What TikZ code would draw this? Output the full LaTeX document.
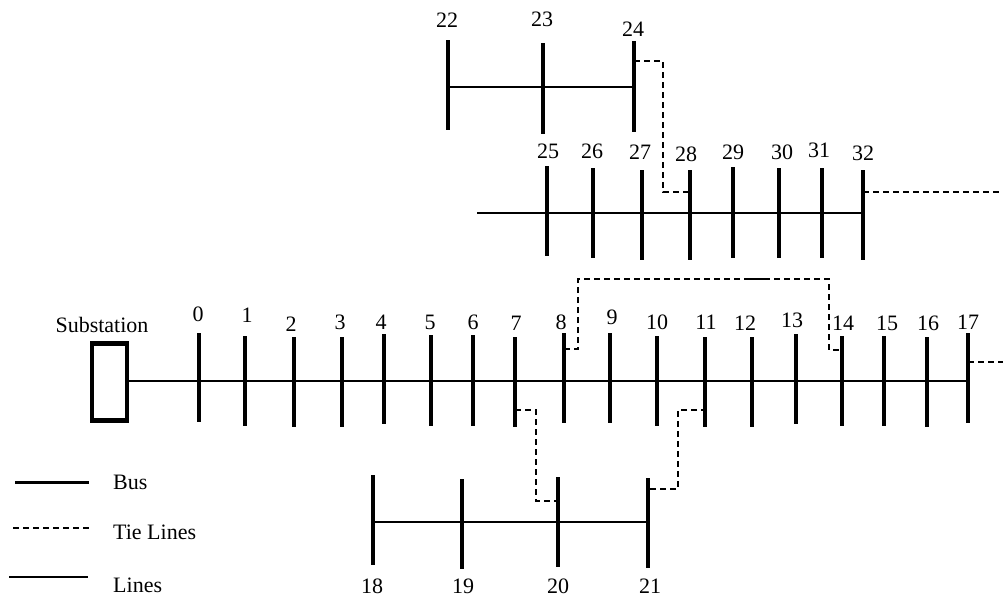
\documentclass[tikz,border=0pt]{standalone}
\usepackage{fontspec}
\setmainfont{Liberation Serif}
\tikzset{
  busbar/.style={line width=4pt},
  feeder/.style={line width=1.3pt},
  tieline/.style={line width=1.3pt,dash pattern=on 6pt off 4pt},
  substation/.style={draw,line width=4.5pt,minimum width=35pt,minimum height=77pt,inner sep=0pt},
  busnum/.style={inner sep=0pt,font=\fontsize{22}{26}\selectfont},
  legendtext/.style={busnum,anchor=west}
}
\begin{document}
\begin{tikzpicture}[x=1pt,y=-1pt]
\useasboundingbox (0,0) rectangle (1003,597);

% Substation
\node [substation] (sub) at (109.5,382) {};
\node [busnum] (subname) at (102,325) {Substation};

% Main feeder buses 0 - 17
\coordinate (b0) at (199,381); \draw [busbar] (199,333) -- (199,422); \node [busnum] (n0) at (198,314) {0};
\coordinate (b1) at (245,381); \draw [busbar] (245,336) -- (245,426); \node [busnum] (n1) at (247,315) {1};
\coordinate (b2) at (294,381); \draw [busbar] (294,337) -- (294,427); \node [busnum] (n2) at (291,324) {2};
\coordinate (b3) at (342,381); \draw [busbar] (342,337) -- (342,427); \node [busnum] (n3) at (340,322) {3};
\coordinate (b4) at (384,381); \draw [busbar] (384,334) -- (384,424); \node [busnum] (n4) at (381,322) {4};
\coordinate (b5) at (431,381); \draw [busbar] (431,335) -- (431,426); \node [busnum] (n5) at (430,322) {5};
\coordinate (b6) at (473,381); \draw [busbar] (473,335) -- (473,426); \node [busnum] (n6) at (473,322) {6};
\coordinate (b7) at (515,381); \draw [busbar] (515,337) -- (515,427); \node [busnum] (n7) at (516,323) {7};
\coordinate (b8) at (564,381); \draw [busbar] (564,333) -- (564,423); \node [busnum] (n8) at (561,322) {8};
\coordinate (b9) at (610,381); \draw [busbar] (610,333) -- (610,423); \node [busnum] (n9) at (612,317) {9};
\coordinate (b10) at (657,381); \draw [busbar] (657,336) -- (657,426); \node [busnum] (n10) at (657,322) {10};
\coordinate (b11) at (705,381); \draw [busbar] (705,337) -- (705,427); \node [busnum] (n11) at (706,322) {11};
\coordinate (b12) at (752,381); \draw [busbar] (752,337) -- (752,427); \node [busnum] (n12) at (745,323) {12};
\coordinate (b13) at (796,381); \draw [busbar] (796,334) -- (796,424); \node [busnum] (n13) at (792,320) {13};
\coordinate (b14) at (842,381); \draw [busbar] (842,336) -- (842,426); \node [busnum] (n14) at (843,323) {14};
\coordinate (b15) at (884,381); \draw [busbar] (884,336) -- (884,426); \node [busnum] (n15) at (887,323) {15};
\coordinate (b16) at (927,381); \draw [busbar] (927,337) -- (927,427); \node [busnum] (n16) at (928,323) {16};
\coordinate (b17) at (968,381); \draw [busbar] (968,333) -- (968,423); \node [busnum] (n17) at (968,322) {17};
\draw [feeder] (b0 -| sub.east) -- (b17);

% Lateral buses 18 - 21
\coordinate (b18) at (373,522); \draw [busbar] (373,475) -- (373,565); \node [busnum] (n18) at (372,586) {18};
\coordinate (b19) at (462,522); \draw [busbar] (462,479) -- (462,569); \node [busnum] (n19) at (463,586) {19};
\coordinate (b20) at (558,522); \draw [busbar] (558,477) -- (558,567); \node [busnum] (n20) at (558,586) {20};
\coordinate (b21) at (648,522); \draw [busbar] (648,478) -- (648,568); \node [busnum] (n21) at (650,586) {21};
\draw [feeder] (b18) -- (b21);

% Lateral buses 22 - 24
\coordinate (b22) at (448,87); \draw [busbar] (448,40) -- (448,130); \node [busnum] (n22) at (447,20) {22};
\coordinate (b23) at (543,87); \draw [busbar] (543,43) -- (543,134); \node [busnum] (n23) at (542,19) {23};
\coordinate (b24) at (634,87); \draw [busbar] (634,41) -- (634,132); \node [busnum] (n24) at (633,29) {24};
\draw [feeder] (b22) -- (b24);

% Lateral buses 25 - 32
\coordinate (b25) at (547,213); \draw [busbar] (547,166) -- (547,256); \node [busnum] (n25) at (548,151) {25};
\coordinate (b26) at (593,213); \draw [busbar] (593,168) -- (593,258); \node [busnum] (n26) at (592,151) {26};
\coordinate (b27) at (642,213); \draw [busbar] (642,170) -- (642,260); \node [busnum] (n27) at (640,152) {27};
\coordinate (b28) at (690,213); \draw [busbar] (690,170) -- (690,260); \node [busnum] (n28) at (686,154) {28};
\coordinate (b29) at (733,213); \draw [busbar] (733,167) -- (733,258); \node [busnum] (n29) at (733,152) {29};
\coordinate (b30) at (779,213); \draw [busbar] (779,168) -- (779,258); \node [busnum] (n30) at (782,152) {30};
\coordinate (b31) at (822,213); \draw [busbar] (822,168) -- (822,258); \node [busnum] (n31) at (819,150) {31};
\coordinate (b32) at (863,213); \draw [busbar] (863,170) -- (863,260); \node [busnum] (n32) at (863,153) {32};
\coordinate (f25) at (477,213);
\draw [feeder] (f25) -- (b32);

% Tie line 24 - 28
\coordinate (t24) at (634,61); \coordinate (t28) at (690,192);
\draw [tieline] (t24) -- (663,61) -- (663,192) -- (t28);

% Tie line 32 - out
\coordinate (t32) at (863,192); \coordinate (e32) at (1003,192);
\draw [tieline] (t32) -- (e32);

% Tie line 8 - 14
\coordinate (t8) at (564,349); \coordinate (t14) at (842,350);
\draw [tieline] (t8) -- (578,349) -- (578,279) -- (829,279) -- (829,350) -- (t14);
\draw [feeder] (747,279) -- (768,279);

% Tie line 17 - out
\coordinate (t17) at (968,362); \coordinate (e17) at (1003,362);
\draw [tieline] (t17) -- (e17);

% Tie line 7 - 20
\coordinate (t7) at (515,410); \coordinate (t20) at (558,501);
\draw [tieline] (t7) -- (536,410) -- (536,501) -- (t20);

% Tie line 11 - 21
\coordinate (t11) at (707,410); \coordinate (t21) at (648,489);
\draw [tieline] (t11) -- (678,410) -- (678,489) -- (t21);

% Legend
\draw [line width=3pt] (15,482) coordinate (lg1) -- (89,482);
\node [legendtext] (lgbus) at (113,482) {Bus};
\draw [tieline] (13,528) coordinate (lg2) -- (89,528);
\node [legendtext] (lgtie) at (113,532) {Tie Lines};
\draw [feeder] (9,577) coordinate (lg3) -- (88,577);
\node [legendtext] (lgline) at (113,585) {Lines};
\end{tikzpicture}
\end{document}
